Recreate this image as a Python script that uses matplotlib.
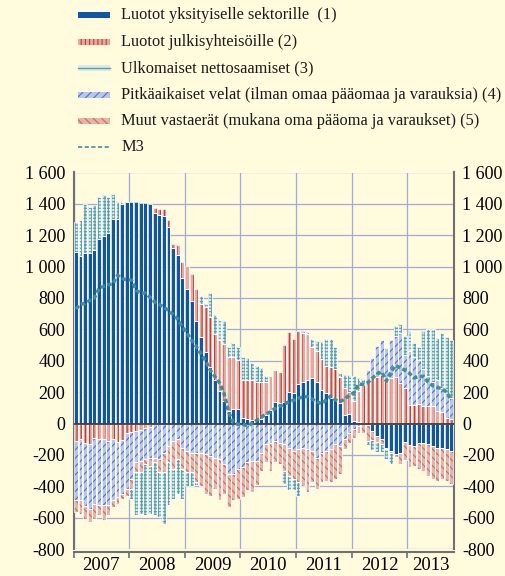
import matplotlib.pyplot as plt
import numpy as np
from matplotlib.patches import Rectangle
from matplotlib.lines import Line2D

plt.rcParams['font.family'] = ['Liberation Serif', 'DejaVu Serif']
plt.rcParams['hatch.linewidth'] = 0.8

W, H = 505, 576
BG = '#fffbdc'

years = ['2007', '2008', '2009', '2010', '2011', '2012', '2013']

# annual flows, EUR bn, monthly Jan 2007 - Oct 2013
luotot_yksityinen = [
    1095, 1065, 1085, 1085, 1105, 1175, 1195, 1215, 1305, 1305, 1400, 1410,
    1410, 1412, 1408, 1405, 1400, 1345, 1332, 1325, 1253, 1117, 1071, 929,
    855, 782, 652, 551, 457, 363, 279, 205, 143, 80, 94, 90,
    35, 30, 20, 25, 30, 57, 88, 140, 130, 140, 203, 193,
    252, 266, 277, 291, 266, 214, 193, 161, 151, 130, 57, 61,
    15, 8, 3, -10, -48, -80, -101, -154, -175, -196, -185, -120,
    -140, -143, -122, -122, -133, -143, -154, -154, -164, -175]
luotot_julkinen = [
    -112, -101, -122, -133, -91, -101, -97, -112, -101, -118, -105, -59,
    -55, -48, -40, -30, -20, 30, 35, 40, 42, 25, 67, 103,
    147, 168, 203, 210, 283, 314, 293, 325, 366, 345, 331, 315,
    244, 249, 255, 240, 232, 208, 216, 200, 199, 361, 378, 346,
    339, 311, 293, 195, 199, 199, 174, 200, 199, 168, 167, 139,
    130, 200, 240, 266, 287, 298, 312, 277, 287, 298, 256, 224,
    120, 120, 124, 109, 110, 109, 78, 73, 36, 31]
ulkomaiset = [
    190, 230, 316, 295, 285, 270, 262, 228, 157, 105, 10, 0,
    -63, -274, -264, -326, -306, -337, -285, -327, -274, -190, -221, -190,
    -85, -85, -20, 49, 20, 157, 118, 130, 146, 65, 90, 85,
    145, 141, 110, 103, 93, 39, 0, 0, 0, -84, -94, -73,
    -84, 10, 15, 50, 63, 105, 172, 178, 136, 21, 84, 108,
    159, 83, 32, -30, -60, -60, -50, -60, -70, 63, 53, 126,
    125, 86, 87, 240, 302, 334, 268, 356, 368, 370]
pitkaaikaiset = [
    -378, -389, -404, -410, -420, -417, -425, -406, -389, -352, -343, -358,
    -299, -200, -198, -197, -197, -217, -227, -185, -143, -112, -101, -154,
    -175, -185, -185, -185, -196, -206, -217, -227, -259, -322, -322, -290,
    -280, -248, -238, -240, -185, -133, -122, -112, -122, -133, -154, -175,
    -164, -154, -164, -175, -217, -185, -175, -164, -133, -143, -101, -59,
    -38, -17, 10, 74, 133, 199, 218, 203, 248, 262, 324, 210,
    345, 304, 279, 241, 190, 157, 199, 151, 146, 129]
muut = [
    -74, -85, -80, -84, -95, -67, -95, -67, -42, -41, -32, -43,
    -63, -63, -73, -32, -52, -31, -84, -126, -105, -178, -126, -136,
    -136, -126, -188, -211, -252, -253, -200, -263, -189, -210, -168, -190,
    -189, -179, -200, -150, -116, -115, -179, -136, -137, -168, -179, -179,
    -211, -242, -274, -200, -200, -190, -189, -211, -221, -179, -63, -63,
    -53, -42, -59, -100, -60, -40, -30, -10, -15, -20, -70, -115,
    -137, -126, -168, -179, -200, -211, -210, -200, -200, -210]
m3 = [
    730, 760, 765, 785, 800, 860, 875, 885, 890, 945, 925, 915,
    915, 850, 830, 832, 805, 775, 760, 740, 720, 695, 665, 615,
    575, 530, 490, 445, 400, 340, 300, 260, 190, 70, 5, -5,
    -5, -15, 0, 20, 40, 60, 75, 95, 110, 125, 138, 148,
    160, 170, 172, 155, 140, 125, 150, 175, 150, 140, 155, 180,
    195, 250, 250, 260, 290, 315, 330, 270, 330, 370, 355, 340,
    320, 290, 300, 300, 265, 240, 230, 222, 200, 150]

labels = [
    'Luotot yksityiselle sektorille  (1)',
    'Luotot julkisyhteisöille (2)',
    'Ulkomaiset nettosaamiset (3)',
    'Pitkäaikaiset velat (ilman omaa pääomaa ja varauksia) (4)',
    'Muut vastaerät (mukana oma pääoma ja varaukset) (5)',
    'M3',
]

# face, hatch colour, hatch
styles = {
    'p1': ('#0f56a8', '#0f56a8', None),
    'p2': ('#eaa79c', '#c23b34', '||||'),
    'p3': ('#d9ecea', '#5a9fa8', '+++++'),
    'p4': ('#b7c6ee', '#5273c6', '////'),
    'p5': ('#ebb3a6', '#c86e5e', '\\\\\\\\'),
}
# stacking order 1, 2, 4, 5, 3
stack = [(luotot_yksityinen, 'p1'), (luotot_julkinen, 'p2'),
         (pitkaaikaiset, 'p4'), (muut, 'p5'), (ulkomaiset, 'p3')]

fig = plt.figure(figsize=(W / 100, H / 100), dpi=100, facecolor=BG)
ax = fig.add_axes([73.5 / W, 1 - 549 / H, (454 - 73.5) / W, (549 - 172.5) / H])
ax.set_facecolor(BG)

x = np.arange(len(m3))
pos = np.zeros(len(x))
neg = np.zeros(len(x))
for vals, key in stack:
    v = np.asarray(vals, float)
    face, hcol, hatch = styles[key]
    base = np.where(v >= 0, pos, neg)
    ax.bar(x, v, width=0.84, bottom=base, color=face, edgecolor=hcol,
           hatch=hatch, linewidth=0, zorder=2)
    ax.bar(x, v, width=0.84, bottom=base, fill=False, edgecolor='white',
           linewidth=0.55, zorder=3)
    pos += np.clip(v, 0, None)
    neg += np.clip(v, None, 0)

ax.axhline(0, color='#3c3c3c', lw=1.3, zorder=4)
ax.plot(x, m3, color='#3f8e98', lw=2.5, ls=(0, (1.3, 0.7)), zorder=5)

ax.set_xlim(-0.5, 81.6)
ax.set_ylim(-800, 1600)
yt = list(range(-800, 1601, 200))
ax.set_yticks(yt, [f'{v:,}'.replace(',', ' ') for v in yt])
ax.tick_params(axis='y', length=0, labelsize=13, labelleft=True,
               labelright=True, pad=6)

bounds = [-0.5 + 12 * k for k in range(7)]
centers = [5.5 + 12 * k for k in range(6)] + [(71.5 + 81.6) / 2]
ax.set_xticks(bounds, [''] * len(bounds))
ax.set_xticks(centers, years, minor=True)
ax.tick_params(axis='x', which='major', direction='out', length=4,
               width=1.2, color='#707070')
ax.tick_params(axis='x', which='minor', length=0, labelsize=13.5, pad=3)

ax.set_axisbelow(True)
ax.grid(True, which='major', color='#9eabdc', lw=0.9)

for side in ['left', 'right', 'bottom']:
    ax.spines[side].set_color('#707070')
    ax.spines[side].set_linewidth(1.5)
ax.spines['top'].set_visible(False)
ax.spines['bottom'].set_position(('outward', 2.5))


def fx(px):
    return px / W


def fy(py):
    return 1 - py / H


rows = [15, 42, 68, 95, 121, 147]
legend_keys = ['p1', 'p2', 'p3', 'p4', 'p5']
for key, ry in zip(legend_keys, rows):
    face, hcol, hatch = styles[key]
    fig.add_artist(Rectangle((fx(78), fy(ry + 3)), 32 / W, 6 / H,
                             transform=fig.transFigure, facecolor=face,
                             edgecolor=hcol, hatch=hatch if key != 'p3' else None,
                             linewidth=0))
    if key == 'p3':
        fig.add_artist(Line2D([fx(78), fx(110)], [fy(ry), fy(ry)],
                              transform=fig.transFigure, color=hcol, lw=1))
fig.add_artist(Line2D([fx(78), fx(110)], [fy(rows[5])] * 2,
                      transform=fig.transFigure, color='#3f8e98', lw=1.2,
                      ls=(0, (2.5, 1.5))))
for lab, ry in zip(labels, rows):
    fig.text(fx(121), fy(ry), lab, fontsize=11.8, va='center', ha='left',
             color='#1a1a1a')

fig.savefig('out.png', dpi=100, facecolor=BG)
